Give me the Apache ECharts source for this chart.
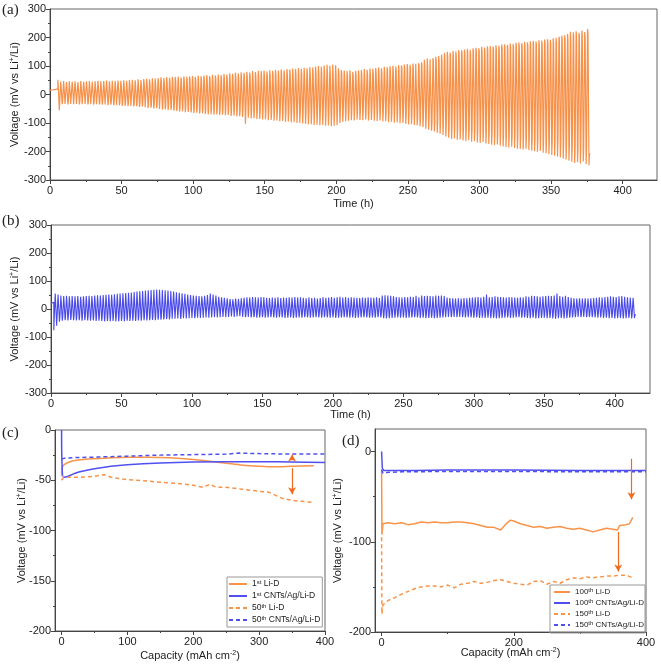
<!DOCTYPE html>
<html><head><meta charset="utf-8">
<script src="https://cdn.jsdelivr.net/npm/echarts@6/dist/echarts.min.js"></script>
<style>html,body{margin:0;padding:0;background:#fff}#c{width:661px;height:665px}</style>
</head><body><div id="c"></div>
<script>
// ---------- Panel (a): Li-D symmetric cell, time (h) vs voltage (mV) ----------
const aStart = 5.5, aPeriod = 2;
const aRestT = [0, 2, 4, 5.5];
const aRestV = [15, 16, 18, 20];
// upper / lower overpotential spike per cycle
const aUp = [52,
45,47,44,46,45, 46,44,47,45,46, 47,45,46,48,46, 47,49,46,48,47, 49,48,50,48,51,
52,50,53,51,54, 55,53,57,56,58, 60,58,61,59,62, 61,63,60,64,62, 63,65,62,66,64,
66,68,65,69,67, 70,68,72,70,74, 73,76,74,78,76, 80,77,82,79,83, 82,84,81,85,83,
86,84,88,85,89, 88,91,89,93,90, 94,92,96,95,98, 100,97,102,104,101, 105,103,92,86,84,
82,85,80,83,84, 86,89,87,91,90, 93,95,92,97,96, 99,101,98,103,102, 105,107,104,109,108,
110,113,122,126,124, 128,132,135,140,146, 150,147,153,151,156, 155,158,160,157,162,
164,162,167,165,169, 170,168,173,171,175, 176,174,179,177,181, 182,180,185,183,187,
188,186,190,189,193, 194,192,197,199,203, 206,208,212,220,218, 222,216,224,219,230];
const aDn = [-55,
-34,-33,-35,-33,-34, -33,-35,-34,-33,-35, -34,-36,-34,-35,-36, -35,-37,-36,-38,-37, -38,-40,-39,-41,-40,
-42,-41,-44,-43,-45, -47,-46,-49,-48,-51, -53,-52,-55,-54,-57, -58,-60,-59,-62,-61, -63,-65,-64,-67,-66,
-68,-70,-69,-71,-70, -72,-71,-73,-72,-75, -74,-77,-76,-79,-103, -81,-84,-83,-86,-85, -88,-87,-90,-89,-92,
-91,-94,-93,-96,-95, -98,-97,-100,-99,-102, -103,-105,-104,-107,-106, -108,-107,-110,-109,-111, -110,-108,-100,-96,-94,
-92,-90,-91,-88,-89, -90,-88,-91,-89,-92, -93,-91,-95,-94,-97, -96,-99,-98,-101,-100, -103,-105,-104,-107,-109,
-111,-114,-120,-124,-127, -130,-134,-138,-142,-147, -152,-156,-154,-159,-158, -161,-163,-160,-166,-164,
-168,-170,-167,-172,-174, -176,-178,-175,-180,-182, -184,-186,-183,-188,-190, -191,-193,-190,-195,-197,
-199,-201,-198,-204,-206, -210,-212,-215,-218,-221, -225,-228,-232,-236,-240, -238,-242,-235,-244,-248];
// plateau voltage, one reading per 5 cycles
const aUpPl = [27,28,28,29,31,34,39,46,50,53, 55,57,60,64,67,70,72,75,78,74, 66,71,78,85,92,102,118,135,145,153, 158,164,169,174,180,193,205,214];
const aDnPl = [-26,-27,-27,-28,-30,-33,-38,-44,-48,-52, -54,-56,-58,-60,-62,-64,-66,-68,-71,-68, -62,-61,-63,-67,-73,-85,-102,-115,-124,-130, -138,-145,-150,-157,-166,-180,-192,-208];

// ---------- Panel (b): CNTs/Ag/Li-D symmetric cell ----------
const bStart = 1, bPeriod = 2;
const bRestT = [0, 1];
const bRestV = [20, 22];
const bUp = [25,55,52,
48,46,47,45,46, 45,46,44,45,46, 47,46,48,49,48, 50,51,52,51,53, 54,55,56,57,58,
59,61,62,63,64, 66,67,68,69,70, 69,68,67,66,64, 62,60,58,56,54, 52,50,48,47,46,
45,47,50,55,52, 48,44,42,40,38, 36,35,37,36,38, 40,42,41,43,42, 41,43,42,40,39,
41,40,42,39,41, 40,42,41,43,41, 42,40,38,41,39, 40,37,39,42,40, 41,43,40,42,44,
41,43,40,42,41, 40,39,41,40,42, 41,40,42,39,48, 49,48,47,45,43, 42,41,43,42,44,
43,47,42,48,46, 47,46,45,48,47, 48,46,41,39,38, 37,38,37,39,38, 40,41,42,43,41,
44,52,42,43,45, 44,43,42,41,43, 42,41,40,42,41, 45,44,47,46,45, 44,45,46,47,46,
48,55,46,44,47, 43,40,38,37,38, 37,38,37,38,39, 40,42,41,43,44, 45,44,43,45,46,
44,42,41,40];
const bDn = [-76,-60,-45,
-42,-40,-41,-39,-40, -41,-40,-42,-40,-41, -42,-41,-43,-42,-43, -44,-43,-44,-43,-44, -44,-43,-44,-42,-43,
-42,-43,-41,-42,-40, -41,-40,-39,-40,-38, -38,-37,-36,-37,-35, -35,-34,-35,-33,-34, -33,-32,-33,-31,-32,
-31,-30,-31,-30,-29, -30,-29,-28,-29,-28, -27,-28,-27,-26,-28, -29,-28,-30,-29,-31, -30,-29,-31,-30,-29,
-30,-31,-29,-30,-32, -31,-30,-32,-31,-30, -31,-29,-30,-31,-30, -29,-30,-31,-29,-30, -31,-30,-32,-31,-30,
-29,-30,-31,-30,-32, -31,-30,-29,-30,-31, -30,-31,-29,-30,-33, -34,-33,-32,-31,-30, -31,-30,-32,-31,-30,
-29,-30,-32,-31,-33, -32,-31,-33,-32,-31, -30,-29,-28,-29,-28, -29,-28,-29,-30,-29, -30,-31,-30,-32,-31,
-32,-31,-33,-32,-34, -33,-32,-31,-30,-32, -31,-30,-29,-31,-30, -32,-33,-31,-34,-33, -32,-31,-33,-32,-34,
-35,-33,-32,-34,-33, -31,-30,-29,-28,-29, -28,-29,-28,-29,-30, -31,-30,-32,-31,-33, -32,-34,-33,-32,-34,
-33,-32,-34,-33];
const bUpPl = [24,27,28,28,29,30,31,31,31,30, 28,27,24,21,21,20,21,20,20,21, 20,21,20,21,22,21,21,20,20,21, 21,22,21,20,21,21,22,21,20,20, 21,20];
const bDnPl = [-30,-29,-29,-30,-30,-30,-29,-29,-28,-27, -25,-24,-22,-21,-21,-20,-21,-21,-20,-21, -21,-20,-21,-21,-20,-21,-21,-22,-21,-20, -21,-22,-21,-21,-20,-21,-22,-21,-20,-21, -22,-21];

// ---------- Panel (c): voltage profiles, cycles 1 and 50 ----------
const c1LiX = [0, 1, 5, 15, 30, 50, 75, 100, 125, 150, 175, 200, 225, 250, 275, 300, 325, 350, 383];
const c1LiY = [-46, -37, -34, -31, -29.5, -28.5, -27.5, -27, -27, -27.3, -28, -29.3, -31, -33, -35, -36, -36.5, -36, -35.5];
const c1CnX = [0, 0.5, 3, 10, 25, 50, 75, 100, 150, 200, 250, 300, 350, 400];
const c1CnY = [0, -30, -47, -46, -42, -38.5, -36, -34.5, -32.8, -31.8, -31.5, -31.5, -31.8, -32.3];
const c50LiX = [0, 3, 10, 30, 50, 60, 65, 75, 100, 125, 150, 175, 200, 215, 225, 235, 250, 275, 300, 315, 325, 335, 350, 365, 380];
const c50LiY = [-50, -47, -47, -47, -46, -45, -44.5, -47, -49.5, -50.5, -52, -53, -55, -57, -54, -57, -57, -59, -61, -62, -65, -68, -70, -71, -72];
const c50CnX = [0, 5, 20, 50, 100, 150, 200, 250, 270, 300, 350, 400];
const c50CnY = [-29, -28, -27.5, -27, -26, -25, -24.5, -24, -23, -23.5, -24, -24];

// ---------- Panel (d): voltage profiles, cycles 100 and 150 ----------
const d100LiX = [0, 0.5, 2, 10, 20, 30, 40, 50, 60, 70, 80, 90, 100, 110, 120, 130, 140, 150, 160, 170, 180, 190, 195, 200, 210, 220, 230, 240, 250, 260, 270, 280, 290, 300, 310, 320, 330, 340, 350, 357, 360, 370, 375, 380];
const d100LiY = [-20, -92, -80, -79, -80, -79, -81, -80, -78, -79, -78, -79, -79, -78, -78, -79, -80, -82, -84, -84, -87, -79, -76, -77, -80, -82, -84, -83, -85, -84, -83, -85, -86, -85, -87, -89, -87, -85, -86, -87, -82, -81, -80, -73];
const d100CnX = [0, 1, 3, 10, 50, 100, 200, 300, 400];
const d100CnY = [0, -18, -21, -21, -21, -20.5, -20.5, -21, -21];
const d150LiX = [0, 0.5, 2, 5, 10, 20, 30, 40, 50, 60, 70, 80, 90, 100, 110, 120, 130, 140, 150, 160, 170, 180, 190, 200, 210, 220, 230, 240, 250, 260, 270, 280, 290, 300, 310, 320, 330, 340, 350, 360, 370, 380];
const d150LiY = [-95, -180, -170, -168, -165, -162, -158, -155, -152, -150, -149, -149, -150, -148, -151, -147, -146, -144, -146, -145, -143, -142, -144, -146, -147, -148, -144, -143, -147, -144, -146, -142, -140, -141, -139, -140, -139, -138, -138, -137, -137, -140];
const d150CnX = [0, 2, 5, 10, 30, 100, 200, 300, 400];
const d150CnY = [-20, -24, -25, -23, -22.5, -22, -22, -22.5, -22.5];

// tick labels
const abTicks = [0, 50, 100, 150, 200, 250, 300, 350, 400];
const abMinor = [25, 75, 125, 175, 225, 275, 325, 375];
const cTicks = [0, 100, 200, 300, 400];
const cMinor = [50, 150, 250, 350];
const dTicks = [0, 200, 400];
const dMinor = [100, 300];
const dYTicks = [-200, -100, 0];
const dYMinor = [-150, -50];

// ---------- build ----------
function wave(start, period, up, dn, upPl, dnPl, restT, restV) {
  const pts = restT.map((t, i) => [t, restV[i]]);
  for (let i = 0; i < up.length; i++) {
    const t0 = start + period * i, k = Math.floor(i / 5);
    pts.push([t0, up[i]], [t0 + 0.15 * period, upPl[k]], [t0 + 0.5 * period, upPl[k]],
             [t0 + 0.5 * period, dn[i]], [t0 + 0.65 * period, dnPl[k]], [t0 + period, dnPl[k]]);
  }
  return pts;
}
const zip = (xs, ys) => xs.map((x, i) => [x, ys[i]]);

const FONT = 'Liberation Sans, Arial, sans-serif';
const AX = '#444';
const ORANGE = '#f6914a', ORANGE2 = '#f7944a', BLUE = '#4a4aea', BLUE2 = '#5050f0';
const supRich = { sup: { fontSize: 7, verticalAlign: 'top', lineHeight: 12, fontFamily: FONT, color: '#222' } };
const supRichS = { sup: { fontSize: 6, verticalAlign: 'top', lineHeight: 10, fontFamily: FONT, color: '#222' } };
const vName = 'Voltage (mV vs Li{sup|+}/Li)';

function xAx(grid, min, max, ticks, gap, name) {
  return {
    type: 'value', gridIndex: grid, min: min, max: max, position: 'bottom',
    name: name, nameLocation: 'middle', nameGap: gap, nameMoveOverlap: false,
    nameTextStyle: { fontSize: 11, color: '#222', fontFamily: FONT, lineHeight: 12, rich: supRich },
    axisLine: { show: true, onZero: false, lineStyle: { color: AX } },
    axisTick: { show: true, length: 4, customValues: ticks, lineStyle: { color: AX } },
    axisLabel: { customValues: ticks, fontSize: 11, color: '#222', fontFamily: FONT, margin: 5 },
    splitLine: { show: false }
  };
}
function minorX(grid, min, max, vals) {
  return {
    type: 'value', gridIndex: grid, min: min, max: max, position: 'bottom',
    axisLine: { show: false, onZero: false }, axisLabel: { show: false }, splitLine: { show: false },
    axisTick: { show: true, length: 2, customValues: vals, lineStyle: { color: AX } }
  };
}
function yAx(grid, min, max, interval, gap) {
  return {
    type: 'value', gridIndex: grid, min: min, max: max, interval: interval, position: 'left',
    name: vName, nameLocation: 'middle', nameGap: gap, nameMoveOverlap: false,
    nameTextStyle: { fontSize: 11, color: '#222', fontFamily: FONT, lineHeight: 12, rich: supRich },
    axisLine: { show: true, onZero: false, lineStyle: { color: AX } },
    axisTick: { show: true, length: 4, lineStyle: { color: AX } },
    minorTick: { show: true, splitNumber: 2, length: 2, lineStyle: { color: AX } },
    axisLabel: { fontSize: 11, color: '#222', fontFamily: FONT, margin: 4 },
    splitLine: { show: false }
  };
}

const gridCommon = { show: true, borderColor: '#666', borderWidth: 1, containLabel: false, outerBoundsMode: 'none' };
const arrowLine = (pairs) => ({
  silent: true, symbol: ['none', 'arrow'], symbolSize: [6, 7], animation: false,
  label: { show: false }, lineStyle: { color: '#f26a1b', width: 1.2, type: 'solid' },
  data: pairs.map(p => [{ coord: [p[0], p[1]] }, { coord: [p[0], p[2]] }])
});
const legendFmt = (n) => n.replace(/^(\d+)(st|th)\s*/, '$1{sup|$2} ');

const option = {
  animation: false,
  backgroundColor: '#fff',
  grid: [
    Object.assign({ left: 50, top: 9, width: 607, height: 171 }, gridCommon),
    Object.assign({ left: 51, top: 225, width: 599, height: 168 }, gridCommon),
    Object.assign({ left: 55, top: 430, width: 270, height: 201 }, gridCommon),
    Object.assign({ left: 375, top: 429, width: 271, height: 203 }, gridCommon)
  ],
  xAxis: [
    xAx(0, 0, 424, abTicks, 18, 'Time (h)'),
    xAx(1, 0, 425, abTicks, 16, 'Time (h)'),
    xAx(2, -10, 400, cTicks, 19, 'Capacity (mAh cm{sup|-2})'),
    xAx(3, -10, 400, dTicks, 15, 'Capacity (mAh cm{sup|-2})'),
    minorX(0, 0, 424, abMinor),
    minorX(1, 0, 425, abMinor),
    minorX(2, -10, 400, cMinor),
    minorX(3, -10, 400, dMinor)
  ],
  yAxis: [
    yAx(0, -300, 300, 100, 29),
    yAx(1, -300, 300, 100, 30),
    yAx(2, -200, 0, 50, 27),
    Object.assign(yAx(3, -200, 25, 100, 31), {
      interval: null, minorTick: { show: false },
      axisTick: { show: true, length: 4, customValues: dYTicks, lineStyle: { color: AX } },
      axisLabel: { customValues: dYTicks, fontSize: 11, color: '#222', fontFamily: FONT, margin: 4 }
    }),
    {
      type: 'value', gridIndex: 3, min: -200, max: 25, position: 'left',
      axisLine: { show: false, onZero: false }, axisLabel: { show: false }, splitLine: { show: false },
      axisTick: { show: true, length: 2, customValues: dYMinor, lineStyle: { color: AX } }
    }
  ],
  legend: [
    {
      left: 227, top: 577, orient: 'vertical', itemWidth: 18, itemHeight: 10, itemGap: 2,
      padding: [2, 2, 2, 1], borderColor: '#999', borderWidth: 1,
      itemStyle: { opacity: 0 },
      data: ['1st Li-D', '1st CNTs/Ag/Li-D', '50th Li-D', '50th CNTs/Ag/Li-D'],
      formatter: legendFmt,
      textStyle: { fontSize: 8.5, color: '#222', fontFamily: FONT, lineHeight: 10, rich: supRichS }
    },
    {
      left: 550, top: 585, orient: 'vertical', itemWidth: 16, itemHeight: 9, itemGap: 1,
      padding: [2, 1, 3, 3], borderColor: '#999', borderWidth: 1,
      itemStyle: { opacity: 0 },
      data: ['100th Li-D', '100th CNTs/Ag/Li-D', '150th Li-D', '150th CNTs/Ag/Li-D'],
      formatter: legendFmt,
      textStyle: { fontSize: 8, color: '#222', fontFamily: FONT, lineHeight: 9, rich: supRichS }
    }
  ],
  graphic: [
    { type: 'text', left: 2, top: 3, style: { text: '(a)', font: '15px "Liberation Serif", serif', fill: '#222' } },
    { type: 'text', left: 2, top: 214, style: { text: '(b)', font: '15px "Liberation Serif", serif', fill: '#222' } },
    { type: 'text', left: 2, top: 426, style: { text: '(c)', font: '15px "Liberation Serif", serif', fill: '#222' } },
    { type: 'text', left: 342, top: 434, style: { text: '(d)', font: '15px "Liberation Serif", serif', fill: '#222' } }
  ],
  series: [
    { type: 'line', name: 'Li-D cycling', xAxisIndex: 0, yAxisIndex: 0, symbol: 'none',
      data: wave(aStart, aPeriod, aUp, aDn, aUpPl, aDnPl, aRestT, aRestV),
      lineStyle: { color: ORANGE, width: 1.2 }, itemStyle: { color: ORANGE } },
    { type: 'line', name: 'CNTs cycling', xAxisIndex: 1, yAxisIndex: 1, symbol: 'none',
      data: wave(bStart, bPeriod, bUp, bDn, bUpPl, bDnPl, bRestT, bRestV),
      lineStyle: { color: BLUE, width: 1.1 }, itemStyle: { color: BLUE } },

    { type: 'line', name: '1st Li-D', xAxisIndex: 2, yAxisIndex: 2, symbol: 'none', smooth: 0.3,
      data: zip(c1LiX, c1LiY), lineStyle: { color: ORANGE2, width: 1.5 }, itemStyle: { color: ORANGE2 },
      markLine: arrowLine([[350, -30, -24.5], [350, -38, -64]]) },
    { type: 'line', name: '1st CNTs/Ag/Li-D', xAxisIndex: 2, yAxisIndex: 2, symbol: 'none', smooth: 0.3,
      data: zip(c1CnX, c1CnY), lineStyle: { color: BLUE2, width: 1.5 }, itemStyle: { color: BLUE2 } },
    { type: 'line', name: '50th Li-D', xAxisIndex: 2, yAxisIndex: 2, symbol: 'none',
      data: zip(c50LiX, c50LiY), lineStyle: { color: ORANGE2, width: 1.5, type: [4, 3] }, itemStyle: { color: ORANGE2 } },
    { type: 'line', name: '50th CNTs/Ag/Li-D', xAxisIndex: 2, yAxisIndex: 2, symbol: 'none',
      data: zip(c50CnX, c50CnY), lineStyle: { color: BLUE2, width: 1.5, type: [4, 3] }, itemStyle: { color: BLUE2 } },

    { type: 'line', name: '100th Li-D', xAxisIndex: 3, yAxisIndex: 3, symbol: 'none',
      data: zip(d100LiX, d100LiY), lineStyle: { color: ORANGE2, width: 1.5 }, itemStyle: { color: ORANGE2 },
      markLine: arrowLine([[378, -8, -53], [358, -89, -133]]) },
    { type: 'line', name: '100th CNTs/Ag/Li-D', xAxisIndex: 3, yAxisIndex: 3, symbol: 'none',
      data: zip(d100CnX, d100CnY), lineStyle: { color: BLUE2, width: 1.5 }, itemStyle: { color: BLUE2 } },
    { type: 'line', name: '150th Li-D', xAxisIndex: 3, yAxisIndex: 3, symbol: 'none',
      data: zip(d150LiX, d150LiY), lineStyle: { color: ORANGE2, width: 1.5, type: [4, 3] }, itemStyle: { color: ORANGE2 } },
    { type: 'line', name: '150th CNTs/Ag/Li-D', xAxisIndex: 3, yAxisIndex: 3, symbol: 'none',
      data: zip(d150CnX, d150CnY), lineStyle: { color: BLUE2, width: 1.5, type: [4, 3] }, itemStyle: { color: BLUE2 } }
  ]
};
const chart = echarts.init(document.getElementById('c'), null, { renderer: 'canvas' });
chart.setOption(option);
</script>
</body></html>
